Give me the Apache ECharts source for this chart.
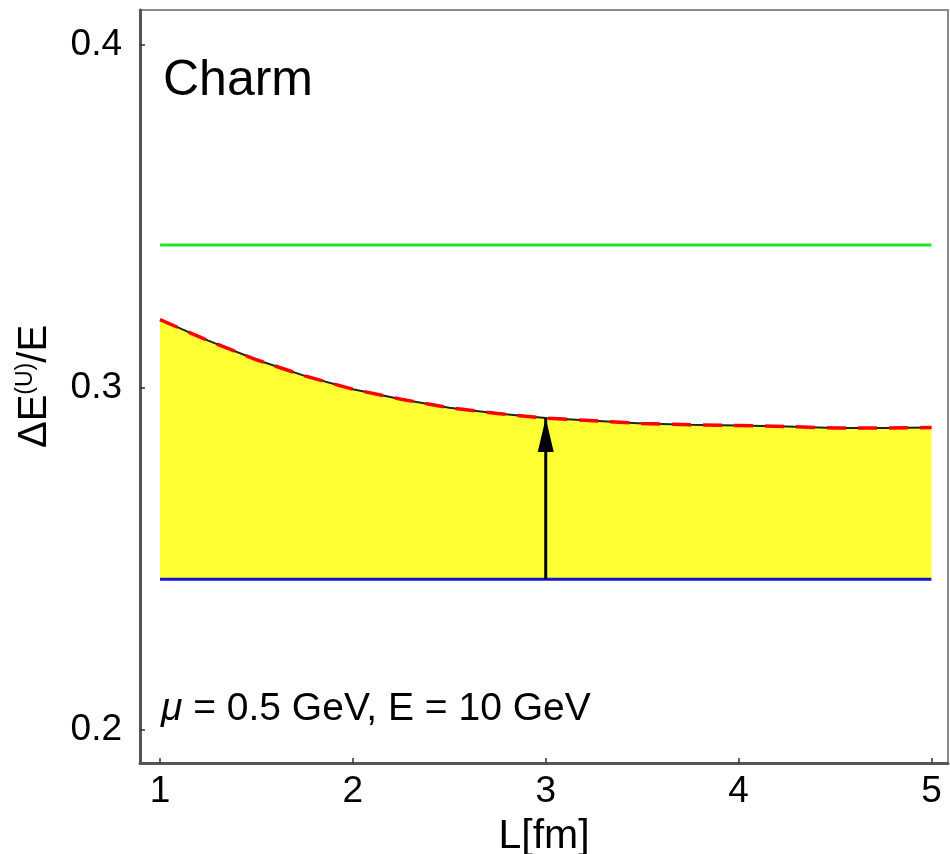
<!DOCTYPE html>
<html>
<head>
<meta charset="utf-8">
<script src="https://cdn.jsdelivr.net/npm/echarts@6/dist/echarts.min.js"></script>
<style>
html,body{margin:0;padding:0;background:#fff;}
#chart{width:950px;height:854px;}
</style>
</head>
<body>
<div id="chart"></div>
<script>
// ---- data ----
var L = [1, 1.25, 1.5, 1.75, 2, 2.25, 2.5, 2.75, 3, 3.25, 3.5, 3.75, 4, 4.25, 4.5, 4.75, 5];
var dE = [0.3198, 0.3137, 0.3081, 0.3034, 0.2995, 0.2966, 0.2941, 0.2924, 0.2911, 0.2903, 0.2895, 0.2891, 0.2889, 0.2886, 0.2882, 0.2882, 0.2883];
var upperValue = 0.3416;   // green line
var lowerValue = 0.2440;   // blue line
var lineRange = [1, 5];
var arrowL = 3;
var arrowTop = 0.2911;
var xTicks = [1, 2, 3, 4, 5];
var yTicks = [0.2, 0.3, 0.4];
var titleText = 'Charm';
var noteText = ' = 0.5 GeV, E = 10 GeV';

// ---- derived series data ----
var curveData = L.map(function (x, i) { return [x, dE[i]]; });

var FONT = 'Liberation Sans, Arial, Helvetica, sans-serif';
var chart = echarts.init(document.getElementById('chart'));

chart.setOption({
  animation: false,
  backgroundColor: '#fff',
  grid: {
    left: 140, top: 10, right: 2, bottom: 91,
    outerBoundsMode: 'none', containLabel: false,
    show: true, borderColor: '#8a8a8a', borderWidth: 2, backgroundColor: 'transparent'
  },
  xAxis: {
    type: 'value', min: 0.896, max: 5.086,
    name: 'L[fm]', nameLocation: 'middle', nameGap: 53,
    nameTextStyle: { fontFamily: FONT, fontSize: 41, color: '#000' },
    axisLine: { show: true, lineStyle: { color: '#555', width: 3 } },
    axisTick: { show: true, inside: true, length: 5, customValues: xTicks, lineStyle: { color: '#333', width: 1.5 } },
    axisLabel: { customValues: xTicks, margin: 10, fontFamily: FONT, fontSize: 37, color: '#000',
      formatter: function (v) { return String(Math.round(v)); } },
    splitLine: { show: false }
  },
  yAxis: {
    type: 'value', min: 0.1904, max: 0.4102,
    name: '{n|ΔE}{s|(U)}{n|/E}', nameLocation: 'middle', nameGap: 85, nameRotate: 90,
    nameTextStyle: {
      fontFamily: FONT, color: '#000',
      rich: {
        n: { fontFamily: FONT, fontSize: 40, color: '#000' },
        s: { fontFamily: FONT, fontSize: 23, color: '#000', verticalAlign: 'top', padding: [0, 0, 18, 0] }
      }
    },
    axisLine: { show: true, lineStyle: { color: '#555', width: 3 } },
    axisTick: { show: true, inside: true, length: 5, customValues: yTicks, lineStyle: { color: '#333', width: 1.5 } },
    axisLabel: { customValues: yTicks, margin: 18, fontFamily: FONT, fontSize: 37, color: '#000',
      formatter: function (v) { return v.toFixed(1); } },
    splitLine: { show: false }
  },
  graphic: [
    { type: 'text', left: 163, top: 56, z: 100, style: { text: titleText, font: '50px ' + FONT, fill: '#000' } },
    { type: 'text', left: 161, top: 690, z: 100,
      style: {
        text: '{i|μ}{t|' + noteText + '}',
        rich: {
          i: { font: 'italic 39px ' + FONT, fill: '#000' },
          t: { font: '39px ' + FONT, fill: '#000' }
        }
      } }
  ],
  series: [
    { name: 'band', type: 'custom', silent: true, z: 1,
      data: [0],
      renderItem: function (params, api) {
        var top = L.map(function (x, i) { return api.coord([x, dE[i]]); });
        var bottom = L.slice().reverse().map(function (x) { return api.coord([x, lowerValue]); });
        return {
          type: 'polygon',
          shape: { points: top.concat(bottom), smooth: 0 },
          style: { fill: '#FFFF33', stroke: null }
        };
      } },
    { name: 'green', type: 'line', data: lineRange.map(function (x) { return [x, upperValue]; }), symbol: 'none',
      lineStyle: { color: '#22E622', width: 3 }, silent: true, z: 3 },
    { name: 'blue', type: 'line', data: lineRange.map(function (x) { return [x, lowerValue]; }), symbol: 'none',
      lineStyle: { color: '#1515CC', width: 3 }, silent: true, z: 3 },
    { name: 'arrowShaft', type: 'line', data: [[arrowL, lowerValue], [arrowL, arrowTop]], symbol: 'none',
      lineStyle: { color: '#000', width: 3 }, silent: true, z: 6 },
    { name: 'arrowHead', type: 'scatter', data: [[arrowL, arrowTop]], symbol: 'triangle',
      symbolSize: [16, 34], symbolOffset: [0, '50%'], itemStyle: { color: '#000', opacity: 1 }, silent: true, z: 6 },
    { name: 'curveBlack', type: 'line', data: curveData, symbol: 'none',
      lineStyle: { color: '#222', width: 2 }, silent: true, z: 4 },
    { name: 'curveRed', type: 'line', data: curveData, symbol: 'none',
      lineStyle: { color: '#FF0000', width: 3.5, type: [19, 12] }, silent: true, z: 5 }
  ]
});
</script>
</body>
</html>
